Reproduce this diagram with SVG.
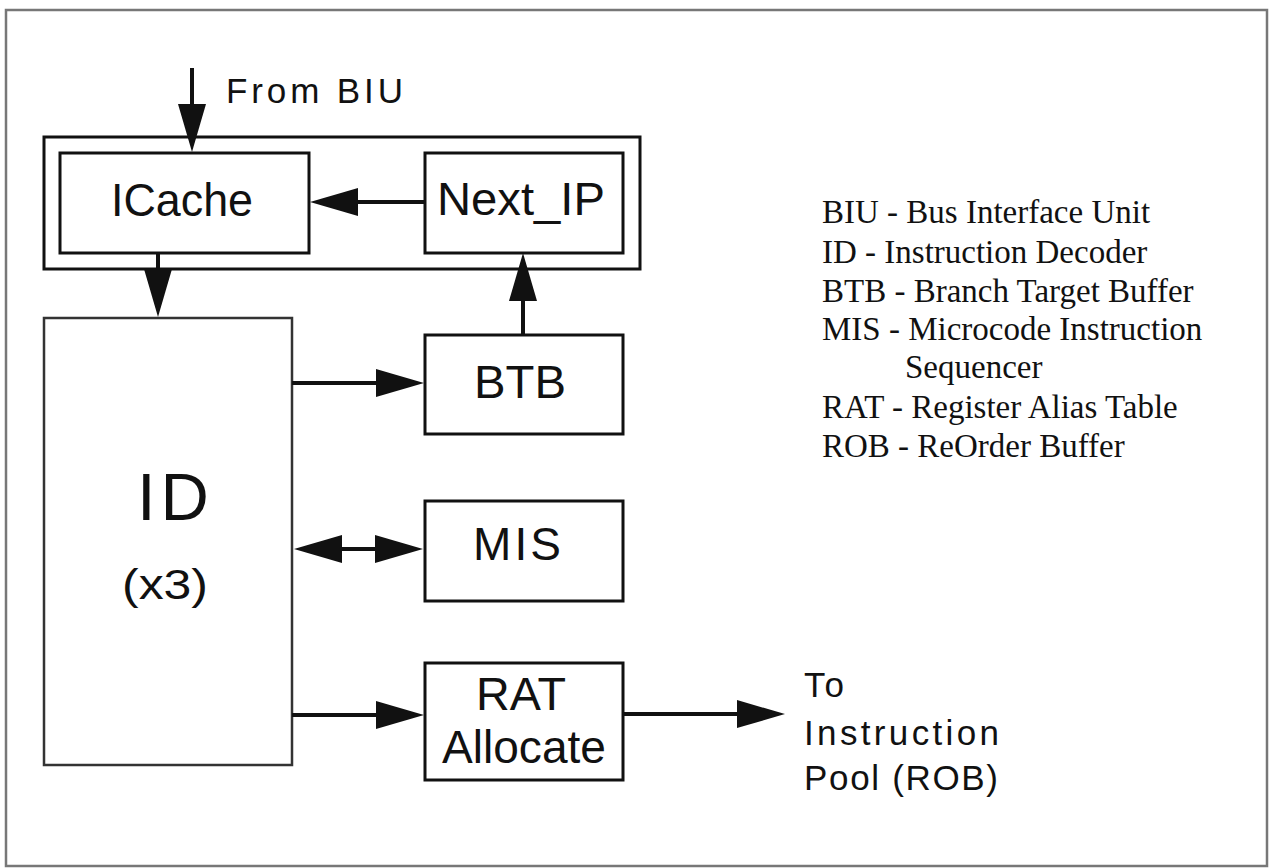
<svg xmlns="http://www.w3.org/2000/svg" width="1273" height="868" viewBox="0 0 1273 868">
<style>
.box{fill:#fff;stroke:#111;stroke-width:3}
.idbox{fill:#fff;stroke:#333;stroke-width:2.5}
.lbl{font-family:"Liberation Sans",Arial,sans-serif;font-size:46px;fill:#111}
.side{font-family:"Liberation Sans",Arial,sans-serif;font-size:35px;fill:#111}
.leg{font-family:"Liberation Serif","Times New Roman",serif;font-size:33px;fill:#111}
.con{stroke:#111;stroke-width:4;fill:none}
</style>
<defs>
<marker id="ah" viewBox="0 0 48 28" refX="2" refY="14" markerWidth="48" markerHeight="28" markerUnits="userSpaceOnUse" orient="auto-start-reverse">
<path d="M0,0 L48,14 L0,28 Z" fill="#111"/>
</marker>
</defs>
<rect x="6" y="10" width="1261" height="856" fill="#fff" stroke="#777" stroke-width="2.5"/>
<g id="fetch-unit">
<rect class="box" x="44" y="137" width="596" height="132"/>
</g>
<g id="icache">
<rect class="box" x="60" y="153" width="249" height="100"/>
<text class="lbl" x="111" y="216" textLength="142" lengthAdjust="spacingAndGlyphs">ICache</text>
</g>
<g id="next-ip">
<rect class="box" x="425" y="153" width="198" height="100"/>
<text class="lbl" x="437" y="215" textLength="168" lengthAdjust="spacingAndGlyphs">Next_IP</text>
</g>
<g id="id">
<rect class="idbox" x="44" y="318" width="248" height="447"/>
<text x="137" y="520" font-family="Liberation Sans, Arial, sans-serif" font-size="67" textLength="72" lengthAdjust="spacing" fill="#111">ID</text>
<text x="122" y="599" font-family="Liberation Sans, Arial, sans-serif" font-size="43" textLength="86" lengthAdjust="spacingAndGlyphs" fill="#111">(x3)</text>
</g>
<g id="btb">
<rect class="box" x="425" y="335" width="198" height="99"/>
<text class="lbl" x="474" y="398" textLength="92" lengthAdjust="spacingAndGlyphs">BTB</text>
</g>
<g id="mis">
<rect class="box" x="425" y="501" width="198" height="100"/>
<text class="lbl" x="473" y="560" textLength="88" lengthAdjust="spacing">MIS</text>
</g>
<g id="rat">
<rect class="box" x="425" y="663" width="198" height="117"/>
<text class="lbl" x="476" y="710" textLength="90" lengthAdjust="spacingAndGlyphs">RAT</text>
<text class="lbl" x="442" y="763" textLength="164" lengthAdjust="spacingAndGlyphs">Allocate</text>
</g>
<g id="labels">
<text class="side" x="226" y="103" textLength="177" lengthAdjust="spacing">From BIU</text>
<text class="side" x="804" y="697" textLength="40" lengthAdjust="spacing">To</text>
<text class="side" x="804" y="745" textLength="195" lengthAdjust="spacing">Instruction</text>
<text class="side" x="804" y="790" textLength="194" lengthAdjust="spacing">Pool (ROB)</text>
</g>
<g id="legend">
<text class="leg" x="822" y="223">BIU - Bus Interface Unit</text>
<text class="leg" x="822" y="263">ID - Instruction Decoder</text>
<text class="leg" x="822" y="302">BTB - Branch Target Buffer</text>
<text class="leg" x="822" y="340">MIS - Microcode Instruction</text>
<text class="leg" x="905" y="378">Sequencer</text>
<text class="leg" x="822" y="418">RAT - Register Alias Table</text>
<text class="leg" x="822" y="457">ROB - ReOrder Buffer</text>
</g>
<g id="connectors">
<line class="con" x1="192" y1="68" x2="192" y2="106" marker-end="url(#ah)"/>
<line class="con" x1="425" y1="202" x2="356" y2="202" marker-end="url(#ah)"/>
<line class="con" x1="158" y1="253" x2="158" y2="271" marker-end="url(#ah)"/>
<line class="con" x1="523" y1="335" x2="523" y2="299" marker-end="url(#ah)"/>
<line class="con" x1="292" y1="383" x2="378" y2="383" marker-end="url(#ah)"/>
<line class="con" x1="340" y1="549" x2="377" y2="549" marker-start="url(#ah)" marker-end="url(#ah)"/>
<line class="con" x1="292" y1="715" x2="378" y2="715" marker-end="url(#ah)"/>
<line class="con" x1="623" y1="714" x2="739" y2="714" marker-end="url(#ah)"/>
</g>
</svg>
